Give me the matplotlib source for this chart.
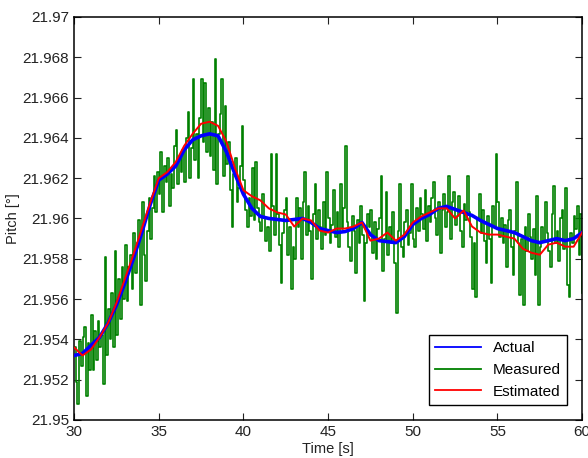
import numpy as np
import matplotlib
matplotlib.use("Agg")
import matplotlib.pyplot as plt

plt.rcParams['font.family'] = ['Liberation Sans', 'DejaVu Sans']

# data (pitch values stored as offset from 21.95 deg, in 1e-3 deg)
base = 21.95

# smooth curves sampled every 0.5 s from 30 to 60 s
t_smooth = np.arange(30.0, 60.01, 0.5)
actual_off = [3.2, 3.3, 3.7, 4.1, 4.8, 5.7, 6.8, 8.0, 9.3, 10.7,
              11.9, 12.2, 12.6, 13.4, 13.9, 14.1, 14.2, 14.1, 13.3, 12.2,
              11.2, 10.5, 10.1, 10.0, 9.95, 9.9, 9.95, 10.0, 9.8, 9.5,
              9.4, 9.3, 9.35, 9.5, 9.8, 9.2, 8.9, 8.85, 8.8, 9.1,
              9.7, 10.0, 10.2, 10.5, 10.6, 10.45, 10.3, 10.15, 9.9, 9.7,
              9.5, 9.4, 9.3, 9.1, 8.9, 8.8, 8.9, 9.0, 8.9, 9.0,
              9.3]
estimated_off = [3.6, 3.2, 3.5, 4.1, 4.8, 5.8, 7.0, 8.2, 9.5, 10.8,
                 12.0, 12.3, 12.8, 13.6, 14.2, 14.7, 14.8, 14.6, 13.8, 12.5,
                 11.4, 11.1, 10.9, 10.5, 10.3, 10.2, 9.6, 10.0, 9.9, 9.4,
                 9.3, 9.5, 9.5, 9.6, 9.8, 8.9, 9.0, 9.3, 8.9, 9.2,
                 9.8, 10.1, 10.3, 10.5, 10.5, 10.0, 10.4, 9.6, 9.3, 9.2,
                 9.2, 9.1, 9.0, 8.5, 8.3, 8.2, 8.7, 8.8, 8.6, 8.6,
                 9.3]

# measured samples every 0.1 s (one row per second)
t_meas = np.arange(30.0, 60.05, 0.1)
measured_off = [
    3.6, 1.9, 0.8, 3.9, 2.7, 4.1, 4.6, 1.2, 3.8, 2.5,
    5.2, 2.5, 4.4, 3.0, 4.9, 3.6, 4.2, 1.8, 8.1, 3.2,
    5.5, 4.0, 6.3, 3.6, 8.4, 4.2, 7.0, 5.0, 7.6, 6.0,
    8.7, 5.9, 7.6, 8.2, 6.5, 9.3, 7.3, 8.8, 9.9, 5.7,
    10.8, 8.2, 6.9, 9.4, 11.0, 9.0, 10.5, 12.1, 10.3, 12.3,
    11.2, 13.3, 10.3, 12.6, 11.8, 13.0, 10.6, 12.2, 11.5, 13.6,
    14.4, 11.7, 13.0, 12.3, 13.4, 11.8, 14.0, 15.3, 12.0, 13.5,
    16.9, 12.9, 14.2, 12.0, 15.0, 16.9, 13.8, 16.7, 13.3, 15.5,
    13.1, 14.8, 12.4, 17.9, 11.7, 14.2, 15.2, 16.9, 12.1, 15.6,
    12.7, 13.8, 11.4, 9.6, 12.2, 13.0, 10.8, 11.5, 12.6, 14.6,
    11.9, 10.4, 9.6, 11.0, 10.1, 12.5, 9.9, 12.8, 10.5, 9.8,
    9.4, 11.2, 10.0, 8.9, 9.6, 8.4, 13.2, 10.6, 9.2, 13.2,
    10.2, 8.7, 6.8, 9.3, 10.4, 11.0, 8.2, 9.6, 6.5, 8.6,
    8.0, 11.0, 9.6, 10.5, 8.0, 10.8, 12.3, 9.2, 10.6, 9.4,
    7.0, 10.2, 11.7, 9.0, 10.4, 9.6, 8.5, 10.8, 9.2, 12.3,
    10.0, 8.8, 9.7, 11.4, 9.1, 10.3, 8.6, 11.7, 9.5, 10.5,
    13.6, 9.8, 8.6, 7.9, 10.1, 9.4, 7.3, 9.9, 8.8, 10.6,
    9.2, 5.9, 8.8, 10.2, 9.6, 10.4, 8.3, 9.8, 8.0, 9.5,
    10.0, 12.1, 7.4, 9.0, 11.3, 8.2, 9.6, 8.8, 10.3, 7.8,
    5.3, 9.4, 11.7, 8.6, 8.1, 9.8, 10.4, 8.7, 9.3, 11.7,
    9.0, 8.6, 10.5, 9.4, 11.0, 10.2, 9.5, 11.4, 8.9, 10.6,
    9.8, 11.0, 11.8, 10.0, 9.2, 10.8, 8.3, 10.4, 11.2, 9.6,
    10.3, 12.1, 9.0, 10.8, 11.3, 9.7, 10.1, 11.1, 9.4, 8.6,
    10.7, 9.9, 12.1, 10.3, 9.1, 6.5, 8.8, 6.1, 10.0, 11.2,
    9.3, 10.4, 8.9, 7.8, 10.1, 9.0, 6.8, 10.6, 9.6, 13.2,
    10.8, 9.1, 10.0, 8.8, 9.7, 7.6, 9.9, 10.4, 8.6, 7.2,
    9.4, 11.8, 8.8, 6.2, 9.0, 5.7, 9.6, 8.4, 10.2, 9.1,
    8.0, 9.5, 7.2, 11.1, 5.7, 8.6, 9.6, 8.9, 10.8, 9.3,
    8.4, 7.6, 10.2, 11.6, 8.8, 9.4, 7.9, 10.0, 10.4, 8.5,
    11.5, 6.7, 6.1, 9.3, 8.8, 10.1, 9.5, 10.6, 8.2, 10.2,
    6.3,
]

actual = base + np.array(actual_off) * 1e-3
estimated = base + np.array(estimated_off) * 1e-3
measured = base + np.array(measured_off) * 1e-3

fig = plt.figure(figsize=(5.88, 4.58), dpi=100)
ax = fig.add_axes([0.126, 0.083, 0.864, 0.880])

ax.plot(t_smooth, actual, color=(0, 0, 1), lw=2.6, label='Actual', zorder=3)
ax.step(t_meas, measured, where='post', color=(0, 0.5, 0), lw=1.2,
        label='Measured', zorder=2)
ax.plot(t_smooth, estimated, color=(1, 0, 0), lw=1.4, label='Estimated', zorder=4)

ax.set_xlim(30, 60)
ax.set_ylim(21.95, 21.97)
ax.set_xticks(range(30, 61, 5))
yt = np.arange(21.95, 21.9701, 0.002)
ax.set_yticks(yt)
ax.set_yticklabels(['%g' % round(v, 3) for v in yt])
ax.tick_params(direction='in', length=5, top=True, right=True,
               labelsize=11, colors='#222222')
for s in ax.spines.values():
    s.set_linewidth(1.1)

ax.set_xlabel('Time [s]', fontsize=10.5, labelpad=2, color='#222222')
ax.set_ylabel('Pitch [°]', fontsize=10.5, labelpad=2, color='#222222')

h, l = ax.get_legend_handles_labels()
leg = ax.legend(h, l, loc='lower right', fontsize=11, fancybox=False,
                edgecolor='black', framealpha=1, borderaxespad=1.0,
                handlelength=3.0, labelspacing=0.5)
leg.get_frame().set_linewidth(1.0)
for line in leg.get_lines():
    line.set_linewidth(1.3)

fig.savefig('out.png', dpi=100)
